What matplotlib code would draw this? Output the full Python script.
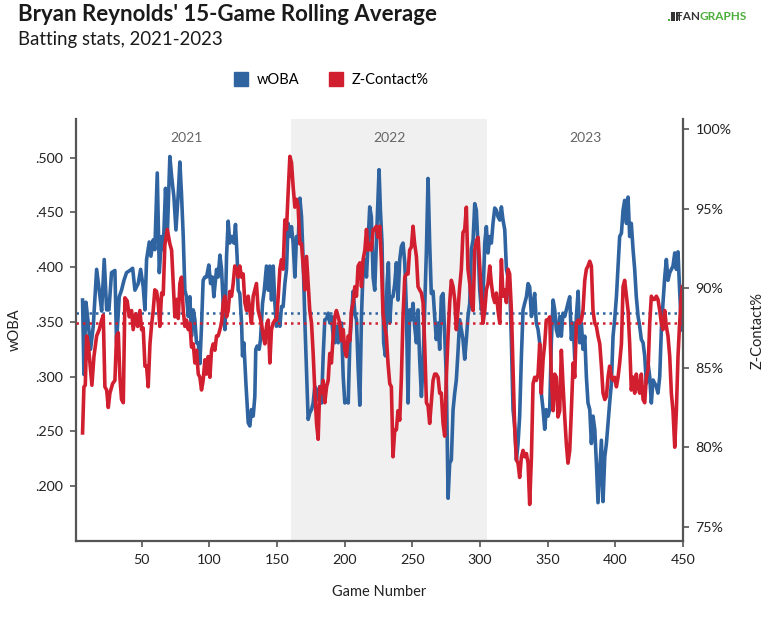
import matplotlib
matplotlib.use("Agg")
import matplotlib.pyplot as plt
from matplotlib.lines import Line2D
from matplotlib.patches import Rectangle
from matplotlib.ticker import FuncFormatter, FixedLocator
import matplotlib.transforms as mtransforms

plt.rcParams['font.family'] = ['Lato', 'DejaVu Sans']

# ---------------- data ----------------
woba_games = [
    6.3, 7.3, 8.8, 10.5, 12.2, 14.2, 16.7, 18.6, 20.4, 22.3,
    24.1, 25.8, 27.7, 30.2, 31.4, 33.4, 35.1, 36.9, 38.8, 41.3,
    43.3, 45.0, 47.4, 49.2, 51.1, 52.4, 53.6, 55.6, 56.8, 58.5,
    59.7, 61.5, 63.0, 64.7, 65.9, 67.6, 68.9,
    70.8, 72.1, 73.8, 75.3, 77.0, 78.2, 79.4, 80.7, 81.9, 83.1,
    84.4, 85.6, 86.8, 88.1, 89.3, 90.5, 91.8, 93.0, 94.2, 95.4,
    96.7, 97.9, 99.6, 100.9, 102.3, 103.3, 105.3, 106.5, 107.8, 109.0,
    110.2, 111.5, 112.7, 113.9, 115.1, 116.4, 118.1, 119.3, 120.6, 121.3,
    122.5, 123.8, 124.5, 125.5, 127.0, 128.7, 129.9, 131.1, 132.4, 133.6,
    134.3, 135.3, 136.8, 137.8, 139.3, 140.5, 142.2, 143.5,
    144.7, 145.9, 147.2, 148.4, 149.6, 150.9, 152.1, 153.3, 154.5, 155.8,
    157.0, 158.2, 159.5, 160.7, 161.9, 163.2, 164.4, 165.6, 166.9, 168.1,
    169.3, 170.6, 171.8, 173.0, 174.2, 175.5, 176.7, 177.9, 179.2, 180.4,
    181.6, 182.9, 184.1, 185.3, 186.6, 187.8, 189.0, 190.2, 191.5, 192.7,
    193.9, 195.2, 196.4, 197.6, 198.9, 200.1, 201.3, 202.6, 203.8, 205.0,
    206.3, 207.5, 208.7, 209.9, 211.2, 212.4, 213.6, 214.9, 216.1, 217.3,
    218.5, 219.7, 221.0, 222.2, 223.4, 224.7, 225.4, 226.4, 227.6, 228.8,
    230.1, 231.3, 232.3,
    233.3, 234.5, 235.7, 237.0, 238.2, 239.4, 240.7, 241.9, 243.1, 244.4,
    245.6, 246.8, 248.0, 249.3, 250.5, 251.7, 253.0, 254.2, 255.4, 256.7,
    257.9, 259.1, 260.4, 261.6, 262.8, 264.0, 265.3, 266.5, 267.7, 269.0,
    270.2, 271.4, 272.7, 273.9, 275.1, 276.4, 277.6, 278.8, 280.1, 281.3,
    282.5, 283.7, 285.0, 286.2, 287.4, 288.7, 289.9, 291.1,
    292.4, 293.6, 294.9, 296.1, 297.3, 298.6, 299.8, 301.0, 302.2, 303.5,
    304.7, 305.9, 307.2, 308.4, 309.6, 310.9, 312.1, 313.3, 314.6, 315.8,
    317.0, 318.3, 319.5, 320.7, 321.9, 323.2, 324.4, 325.6, 326.9, 328.1,
    329.3, 330.6, 331.8, 333.0, 334.3, 335.5, 336.7, 338.0, 339.2, 340.4,
    341.6, 342.9, 344.1, 345.3, 346.6, 347.8, 349.0, 350.3, 351.5, 352.7,
    354.0, 355.2, 356.4, 357.6, 358.9, 360.1, 361.3, 362.6, 363.8, 365.0,
    366.3, 367.5, 368.8, 370.0, 371.2, 372.5, 373.7, 374.9, 376.1, 377.4,
    378.6, 379.8, 381.1, 382.3, 383.5, 384.8, 386.0, 387.2, 388.5, 389.7,
    390.9, 392.2, 393.4, 394.6, 395.8, 397.1, 398.3, 399.5, 400.8, 402.0,
    403.2, 404.5, 405.7, 406.9, 408.2, 409.4, 410.6, 411.8, 413.1, 414.3,
    415.5, 416.8, 418.0, 419.2, 420.5, 421.7, 422.9, 424.2, 425.4, 426.6,
    427.9, 429.1, 430.3, 431.5, 432.8, 434.0, 435.2, 436.5, 437.7, 438.9,
    440.2, 441.4, 442.6, 443.9, 445.1, 446.3, 447.5, 448.8, 449.5,
]
woba_values = [
    0.370, 0.302, 0.368, 0.349, 0.325, 0.346, 0.398, 0.379, 0.360, 0.407,
    0.361, 0.361, 0.395, 0.397, 0.331, 0.373, 0.379, 0.388, 0.395, 0.397,
    0.399, 0.379, 0.385, 0.398, 0.382, 0.361, 0.407, 0.423, 0.410, 0.425,
    0.416, 0.486, 0.395, 0.428, 0.416, 0.472, 0.428,
    0.501, 0.483, 0.464, 0.434, 0.467, 0.496, 0.467, 0.428, 0.379, 0.373,
    0.355, 0.373, 0.337, 0.361, 0.352, 0.331, 0.331, 0.312, 0.346, 0.388,
    0.391, 0.391, 0.402, 0.385, 0.391, 0.373, 0.398, 0.391, 0.411, 0.398,
    0.367, 0.343, 0.410, 0.442, 0.422, 0.428, 0.422, 0.439, 0.407, 0.379,
    0.376, 0.349, 0.319, 0.331, 0.294, 0.258, 0.255, 0.270, 0.264, 0.282,
    0.325, 0.328, 0.325, 0.334, 0.367, 0.378, 0.401, 0.379,
    0.401, 0.370, 0.401, 0.367, 0.346, 0.355, 0.346, 0.364, 0.364, 0.385,
    0.398, 0.440, 0.428, 0.437, 0.422, 0.391, 0.428, 0.422, 0.463, 0.446,
    0.407, 0.349, 0.306, 0.261, 0.267, 0.270, 0.276, 0.291, 0.288, 0.279,
    0.291, 0.276, 0.319, 0.352, 0.353, 0.358, 0.349, 0.355, 0.337, 0.331,
    0.346, 0.331, 0.349, 0.349, 0.300, 0.276, 0.279, 0.276, 0.331, 0.355,
    0.378, 0.358, 0.352, 0.309, 0.274, 0.355, 0.398, 0.407, 0.391, 0.422,
    0.455, 0.446, 0.391, 0.379, 0.422, 0.464, 0.489, 0.452, 0.422, 0.331,
    0.319, 0.385, 0.404,
    0.349, 0.373, 0.373, 0.385, 0.404, 0.370, 0.407, 0.419, 0.422, 0.404,
    0.361, 0.276, 0.361, 0.352, 0.367, 0.346, 0.331, 0.361, 0.316, 0.282,
    0.312, 0.361, 0.416, 0.481, 0.422, 0.376, 0.378, 0.355, 0.334, 0.349,
    0.325, 0.373, 0.376, 0.337, 0.300, 0.189, 0.221, 0.224, 0.270, 0.285,
    0.297, 0.322, 0.352, 0.343, 0.334, 0.316, 0.334, 0.355,
    0.367, 0.416, 0.425, 0.458, 0.452, 0.416, 0.379, 0.361, 0.373, 0.422,
    0.437, 0.413, 0.428, 0.422, 0.440, 0.454, 0.452, 0.446, 0.443, 0.455,
    0.443, 0.434, 0.398, 0.391, 0.385, 0.331, 0.270, 0.255, 0.224, 0.239,
    0.264, 0.319, 0.361, 0.367, 0.373, 0.385, 0.382, 0.355, 0.367, 0.376,
    0.349, 0.343, 0.331, 0.285, 0.270, 0.252, 0.270, 0.264, 0.270, 0.331,
    0.370, 0.361, 0.343, 0.337, 0.355, 0.337, 0.358, 0.355, 0.361, 0.367,
    0.373, 0.334, 0.349, 0.316, 0.355, 0.378, 0.331, 0.349, 0.325, 0.337,
    0.300, 0.276, 0.270, 0.239, 0.264, 0.252, 0.221, 0.185, 0.215, 0.242,
    0.186, 0.227, 0.239, 0.258, 0.276, 0.294, 0.337, 0.352, 0.373, 0.401,
    0.428, 0.431, 0.452, 0.461, 0.440, 0.464, 0.428, 0.440, 0.416, 0.398,
    0.373, 0.355, 0.346, 0.334, 0.331, 0.319, 0.294, 0.312, 0.300, 0.276,
    0.297, 0.294, 0.291, 0.285, 0.300, 0.343, 0.367, 0.391, 0.407, 0.388,
    0.395, 0.398, 0.401, 0.413, 0.398, 0.414, 0.379, 0.346, 0.343,
]

zc_games = [
    6.3, 7.3, 8.3, 9.3, 10.5, 12.2, 13.2, 14.7, 16.7, 18.6,
    20.4, 21.6, 22.8, 24.1, 25.3, 26.5, 28.5, 30.2, 31.4, 32.7,
    33.9, 35.1, 36.4, 37.6, 39.3, 40.8, 42.5, 43.7, 45.5, 47.0,
    48.7, 49.9, 51.1, 52.4, 53.6, 54.8, 56.1, 57.3, 58.5, 59.7,
    61.0, 62.2, 63.4, 64.7, 65.9, 67.1, 68.9,
    70.8, 72.1, 73.3, 74.5, 75.8, 77.0, 78.2, 79.4, 80.7, 81.9,
    83.1, 84.4, 85.6, 86.8, 88.1, 89.3, 90.5, 91.8, 93.0, 94.2,
    95.4, 96.7, 97.9, 99.1, 100.4, 101.6, 102.8, 104.1, 105.3, 106.5,
    107.8, 109.0, 110.2, 111.5, 112.7, 113.9, 115.1, 116.4, 117.6, 118.8,
    120.1, 121.3, 122.5, 123.8, 125.0, 126.2, 127.5, 128.7, 129.9, 131.1,
    132.4, 133.6, 134.8, 136.1, 137.3, 138.5, 139.8, 141.0, 142.2, 143.5,
    144.7, 145.9, 147.2, 148.4, 149.6, 150.9, 152.1, 153.3, 154.5, 155.8,
    157.0, 158.2, 159.5, 160.7, 161.9, 163.2, 164.4, 165.6, 166.9, 168.1,
    169.3, 170.6, 171.8, 173.0, 174.2, 175.5, 176.7, 177.9, 179.2, 180.4,
    181.6, 182.9, 184.1, 185.3, 186.6, 187.8, 189.0, 190.2, 191.5, 192.7,
    193.9, 195.2, 196.4, 197.6, 198.9, 200.1, 201.3, 202.6, 203.8, 205.0,
    206.3, 207.5, 208.7, 209.9, 211.2, 212.4, 213.6, 214.9, 216.1, 217.3,
    218.5, 219.7, 221.0, 222.2, 223.4, 224.7, 225.9, 227.1, 228.3, 229.6,
    230.8, 232.0, 233.3, 234.5, 235.7, 237.0, 238.2, 239.4, 240.7, 241.9,
    243.1, 244.4, 245.6, 246.8, 248.0, 249.3, 250.5, 251.7, 253.0, 254.2,
    255.4, 256.7, 257.9, 259.1, 260.4, 261.6, 262.8, 264.0, 265.3, 266.5,
    267.7, 269.0, 270.2, 271.4, 272.7, 273.9, 275.1, 276.4, 277.6, 278.8,
    280.1, 281.3, 282.5, 283.7, 285.0, 286.2, 287.4, 288.7, 289.9, 291.1,
    292.4, 293.6, 294.9, 296.1, 297.3, 298.6, 299.8, 301.0, 302.2, 303.5,
    304.7, 305.9, 307.2, 308.4, 309.6, 310.9, 312.1, 313.3, 314.6, 315.8,
    317.0, 318.3, 319.5, 320.7, 321.9, 323.2, 324.4, 325.6, 326.9, 328.1,
    329.3, 330.6, 331.8, 333.0, 334.3, 335.5, 336.7, 338.0, 339.2, 340.4,
    341.6, 342.9, 344.1, 345.3, 346.6, 347.8, 349.0, 350.3, 351.5, 352.7,
    354.0, 355.2, 356.4, 357.6, 358.9, 360.1, 361.3, 362.6, 363.8, 365.0,
    366.3, 367.5, 368.8, 370.0, 371.2, 372.5, 373.7, 374.9, 376.1, 377.4,
    378.6, 379.8, 381.1, 382.3, 383.5, 384.8, 386.0, 387.2, 388.5, 389.7,
    390.9, 392.2, 393.4, 394.6, 395.8, 397.1, 398.3, 399.5, 400.8, 402.0,
    403.2, 404.5, 405.7, 406.9, 408.2, 409.4, 410.6, 411.8, 413.1, 414.3,
    415.5, 416.8, 418.0, 419.2, 420.5, 421.7, 422.9, 424.2, 425.4, 426.6,
    427.9, 429.1, 430.3, 431.5, 432.8, 434.0, 435.2, 436.5, 437.7, 438.9,
    440.2, 441.4, 442.6, 443.9, 445.1, 446.3, 447.5, 448.8, 449.5,
]
zc_values = [
    80.9, 83.8, 83.9, 87.0, 86.5, 84.9, 83.9, 85.7, 87.0, 87.4,
    88.0, 88.3, 83.8, 83.6, 82.5, 83.4, 84.0, 84.2, 87.0, 87.2,
    84.4, 83.0, 82.8, 89.4, 89.2, 88.2, 88.6, 87.4, 88.4, 87.6,
    88.6, 87.4, 87.5, 85.1, 85.1, 83.8, 86.5, 87.7, 88.6, 89.9,
    89.8, 89.1, 87.6, 89.7, 89.6, 92.7, 93.7,
    92.8, 92.4, 90.3, 88.2, 89.3, 88.1, 90.3, 90.7, 88.6, 87.6,
    88.0, 87.4, 87.8, 86.3, 86.5, 85.3, 86.1, 84.6, 84.4, 83.6,
    84.2, 85.5, 84.6, 85.7, 84.4, 86.1, 86.5, 86.1, 87.0, 87.0,
    87.4, 87.8, 89.1, 89.5, 88.2, 88.6, 89.8, 89.5, 90.3, 91.4,
    91.2, 90.7, 91.4, 90.7, 90.9, 89.1, 88.6, 89.5, 88.6, 87.8,
    89.5, 89.9, 90.3, 88.6, 88.2, 87.8, 87.0, 86.5, 87.6, 88.0,
    85.3, 87.4, 87.8, 88.0, 88.0, 89.5, 91.2, 91.8, 91.2, 94.3,
    93.7, 96.0, 98.3, 97.9, 96.4, 95.1, 95.6, 95.1, 92.8, 92.8,
    91.4, 89.9, 92.0, 90.3, 88.6, 87.8, 85.9, 83.6, 81.5, 80.5,
    83.8, 83.4, 84.2, 82.8, 83.8, 84.2, 85.9, 85.3, 87.0, 88.2,
    88.6, 88.2, 87.8, 86.7, 87.4, 86.1, 85.7, 87.0, 86.7, 88.6,
    89.1, 90.1, 89.5, 91.4, 91.6, 90.1, 91.8, 92.4, 93.7, 92.4,
    92.8, 92.4, 93.7, 93.7, 93.9, 93.2, 93.9, 91.8, 88.4, 87.6,
    87.0, 85.3, 84.0, 83.8, 79.4, 81.1, 81.1, 82.3, 81.7, 84.4,
    88.2, 90.7, 90.9, 90.9, 92.4, 92.6, 93.9, 92.8, 92.0, 90.1,
    89.9, 89.7, 89.1, 86.5, 82.8, 82.6, 81.5, 82.8, 84.2, 84.6,
    84.6, 84.4, 83.4, 83.4, 81.5, 80.7, 84.4, 87.0, 89.1, 90.5,
    90.1, 89.3, 87.4, 88.6, 90.1, 91.2, 93.5, 93.7, 95.1, 91.2,
    90.3, 89.1, 88.6, 92.4, 93.0, 93.2, 91.4, 89.5, 87.8, 88.6,
    89.9, 90.3, 91.4, 90.3, 89.5, 89.1, 89.7, 88.6, 87.8, 91.8,
    89.5, 89.9, 89.1, 91.2, 90.9, 88.6, 84.9, 81.3, 79.2, 79.0,
    78.1, 79.4, 79.8, 79.4, 79.6, 79.0, 76.4, 79.4, 84.0, 84.4,
    84.2, 84.6, 86.5, 83.4, 85.5, 86.5, 88.0, 88.0, 88.2, 84.4,
    82.3, 84.6, 84.4, 81.9, 82.3, 86.1, 84.0, 81.9, 80.2, 79.0,
    79.8, 82.3, 85.3, 84.4, 87.8, 88.0, 87.8, 88.0, 88.6, 90.5,
    91.2, 91.4, 91.7, 91.4, 88.6, 87.8, 87.6, 87.0, 86.5, 85.1,
    83.4, 83.0, 83.2, 84.4, 85.1, 84.4, 84.2, 84.4, 83.8, 84.4,
    85.3, 86.5, 90.1, 90.5, 89.5, 88.6, 86.5, 83.6, 84.4, 83.4,
    84.6, 83.8, 83.4, 84.6, 83.0, 82.8, 84.4, 84.9, 87.8, 89.5,
    89.3, 89.3, 89.5, 89.3, 88.6, 87.8, 87.4, 88.6, 87.6, 87.0,
    85.7, 83.4, 82.3, 80.0, 82.3, 85.7, 87.8, 89.5, 90.1,
]

woba_average = 0.358
zc_average = 87.8

season_labels = ['2021', '2022', '2023']
season_bounds = [6.3, 160.5, 305.5, 450.0]
shaded_season = 1

woba_ticks = [0.200, 0.250, 0.300, 0.350, 0.400, 0.450, 0.500]
zc_ticks = [75, 80, 85, 90, 95, 100]
game_ticks = [50, 100, 150, 200, 250, 300, 350, 400, 450]

# ---------------- styling ----------------
BLUE = '#2f64a0'
RED = '#d21f30'
SPINE = '#555555'
TEXT = '#222222'
GREEN = '#4caf3c'

W, H = 768, 617
fig = plt.figure(figsize=(W / 100, H / 100), dpi=100)
L, R, T, B = 75.8, 683.0, 119.3, 541.0
ax = fig.add_axes([L / W, 1 - B / H, (R - L) / W, (B - T) / H])
ax2 = ax.twinx()

# shaded 2022 region
ax.axvspan(season_bounds[shaded_season], season_bounds[shaded_season + 1],
           color='#f0f0f0', zorder=0, lw=0)

# average lines
ax.axhline(woba_average, color=BLUE, lw=1.8, ls=(0, (1, 1.6)), zorder=1)
ax2.axhline(zc_average, color=RED, lw=1.8, ls=(0, (1, 1.6)), zorder=1)

ax.plot(woba_games, woba_values, color=BLUE, lw=2.6, solid_joinstyle='round', zorder=2)
ax2.plot(zc_games, zc_values, color=RED, lw=2.6, solid_joinstyle='round', zorder=2)

ax.set_xlim(1.3, 450)
ax.set_ylim(0.15, 0.535)
ax2.set_ylim(74.1, 100.63)

ax.xaxis.set_major_locator(FixedLocator(game_ticks))
ax.yaxis.set_major_locator(FixedLocator(woba_ticks))
ax2.yaxis.set_major_locator(FixedLocator(zc_ticks))
ax.yaxis.set_major_formatter(FuncFormatter(lambda v, p: ('%.3f' % v).lstrip('0')))
ax2.yaxis.set_major_formatter(FuncFormatter(lambda v, p: '%d%%' % round(v)))

for a in (ax, ax2):
    for s in a.spines.values():
        s.set_color(SPINE)
        s.set_linewidth(1.6)
    a.spines['top'].set_visible(False)
    a.tick_params(colors=SPINE, labelcolor=TEXT, labelsize=10.3, length=4, width=1.2)
    a.set_facecolor('none')
ax.spines['right'].set_visible(False)
ax2.spines['left'].set_visible(False)
ax2.spines['bottom'].set_visible(False)
ax.tick_params(axis='x', pad=5)
ax.tick_params(axis='y', pad=5)
ax2.tick_params(axis='y', pad=5)

ax.set_xlabel('Game Number', fontsize=10.5, color=TEXT, labelpad=14)
ax.set_ylabel('wOBA', fontsize=10.5, color=TEXT, labelpad=10)
ax2.set_ylabel('Z-Contact%', fontsize=10.5, color=TEXT, labelpad=14)

# season labels
trans = mtransforms.blended_transform_factory(ax.transData, ax.transAxes)
for i, lab in enumerate(season_labels):
    mid = (season_bounds[i] + season_bounds[i + 1]) / 2
    ax.text(mid, 0.955, lab, transform=trans, ha='center', va='center',
            fontsize=10, color='#666666')

# titles
fig.text(18 / W, 1 - 4 / H, "Bryan Reynolds' 15-Game Rolling Average",
         fontsize=16, fontweight='bold', color='#1a1a1a', ha='left', va='top')
fig.text(18 / W, 1 - 31 / H, 'Batting stats, 2021-2023',
         fontsize=13.4, color='#1a1a1a', ha='left', va='top')

# logo: small drawn mark + text
fig.text(700 / W, 1 - 17 / H, 'FAN', fontsize=8.5, fontweight='bold',
         color='#333333', ha='right', va='center')
fig.text(700 / W, 1 - 17 / H, 'GRAPHS', fontsize=8.5, fontweight='bold',
         color=GREEN, ha='left', va='center')
icon_parts = [
    (668, 19, 2, 2, GREEN),
    (671, 12, 4, 9, '#333333'),
    (676, 12, 1.5, 9, '#333333'),
    (678.5, 12, 1.5, 9, '#333333'),
]
for px, py, pw, ph, col in icon_parts:
    fig.patches.append(Rectangle((px / W, 1 - (py + ph) / H), pw / W, ph / H,
                                 transform=fig.transFigure, color=col, lw=0))

# legend
handles = [Line2D([], [], ls='none', marker='s', markersize=9.5, color=BLUE),
           Line2D([], [], ls='none', marker='s', markersize=9.5, color=RED)]
fig.legend(handles, ['wOBA', 'Z-Contact%'], loc='center', ncol=2,
           bbox_to_anchor=(331 / W, 1 - 80 / H), frameon=False, fontsize=10.5,
           handletextpad=0.6, columnspacing=2.0, handlelength=1.0)

fig.savefig('out.png', dpi=100)
